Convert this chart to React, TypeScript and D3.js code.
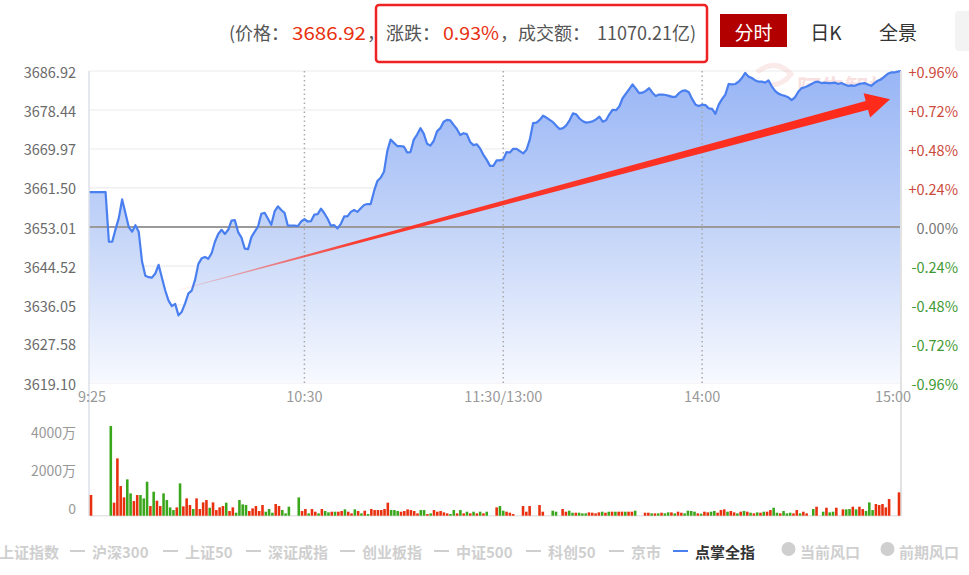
import React from "react";
import * as d3 from "d3";

// 昨收
const prevClose = 3653.01;

// left axis labels (price) and right axis labels (percent)
const priceTicks = [3686.92, 3678.44, 3669.97, 3661.5, 3653.01, 3644.52, 3636.05, 3627.58, 3619.1];
const pctTicks = [0.96, 0.72, 0.48, 0.24, 0, -0.24, -0.48, -0.72, -0.96];

// x axis: minute index from 9:25 (11:30 and 13:00 share one slot)
const timeLabels = ["9:25", "10:30", "11:30/13:00", "14:00", "15:00"];
const timeLabelIdx = [0, 65, 125, 185, 245];
const dottedIdx = [65, 125, 185];

// volume axis (万)
const volTicks = [0, 2000, 4000];

// per-minute index level
const prices = [
  3660.6, 3660.6, 3660.6, 3660.6, 3660.6, 3660.6, 3649.8, 3649.8, 3652.5, 3655.0,
  3659.0, 3656.0, 3653.0, 3652.0, 3653.4, 3652.0, 3645.5, 3642.4, 3642.1, 3642.0,
  3642.9, 3644.8, 3642.0, 3639.2, 3637.0, 3635.8, 3636.3, 3633.8, 3634.6, 3636.4,
  3638.6, 3639.2, 3641.5, 3645.0, 3646.2, 3646.5, 3646.1, 3647.3, 3649.8, 3651.5,
  3652.4, 3651.5, 3652.4, 3654.4, 3654.5, 3651.9, 3650.7, 3648.3, 3648.2, 3650.8,
  3652.0, 3653.1, 3655.9, 3656.1, 3654.8, 3653.5, 3656.4, 3657.5, 3656.7, 3656.1,
  3653.3, 3653.3, 3653.3, 3653.2, 3654.2, 3654.7, 3654.2, 3654.3, 3655.7, 3655.8,
  3657.0, 3656.0, 3654.8, 3653.3, 3653.4, 3652.7, 3653.7, 3655.3, 3655.3, 3656.3,
  3656.7, 3656.3, 3657.1, 3657.8, 3658.0, 3658.0, 3660.8, 3663.0, 3663.7, 3665.0,
  3669.5, 3672.0, 3671.3, 3670.6, 3670.6, 3670.5, 3669.2, 3669.3, 3672.0, 3673.1,
  3674.5, 3673.3, 3671.1, 3670.7, 3671.7, 3673.8, 3674.5, 3675.9, 3676.3, 3676.2,
  3675.2, 3674.3, 3673.0, 3673.4, 3673.2, 3671.5, 3670.8, 3671.0, 3670.1, 3668.7,
  3667.6, 3666.3, 3666.3, 3667.5, 3667.5, 3667.7, 3669.3, 3669.2, 3670.0, 3670.0,
  3669.5, 3669.0, 3669.8, 3672.0, 3675.6, 3675.7, 3676.3, 3677.2, 3676.8, 3676.3,
  3675.8, 3675.0, 3674.3, 3674.5, 3675.1, 3676.2, 3677.7, 3677.5, 3676.6, 3676.0,
  3675.7, 3675.8, 3676.0, 3676.4, 3677.0, 3675.9, 3676.2, 3677.5, 3678.5, 3678.4,
  3679.2, 3681.0, 3682.0, 3683.0, 3684.0, 3683.1, 3682.1, 3682.2, 3682.6, 3683.2,
  3682.2, 3681.5, 3681.8, 3681.8, 3681.7, 3681.5, 3681.3, 3681.3, 3682.1, 3682.6,
  3682.7, 3682.3, 3680.8, 3679.6, 3679.3, 3679.6, 3679.5, 3678.8, 3678.7, 3677.6,
  3679.6, 3680.8, 3681.8, 3684.1, 3684.0, 3684.1, 3684.6, 3685.4, 3686.5, 3685.7,
  3685.4, 3684.9, 3684.6, 3684.6, 3684.4, 3684.9, 3683.6, 3682.6, 3682.0, 3681.7,
  3681.5, 3681.2, 3680.6, 3681.2, 3682.4, 3683.2, 3683.4, 3683.7, 3684.1, 3684.5,
  3684.6, 3684.3, 3684.4, 3684.3, 3684.3, 3684.4, 3684.1, 3684.3, 3684.0, 3683.7,
  3683.8, 3683.7, 3684.0, 3684.2, 3684.3, 3684.0, 3683.7, 3684.3, 3684.8, 3685.1,
  3685.7, 3686.3, 3686.6, 3686.6, 3686.8, 3686.92,
];

// per-minute volume, 万
const volumes = [
  1100, 0, 0, 0, 0, 0, 4756, 690, 3041, 1573,
  972, 1927, 1185, 778, 1096, 1096, 919, 1803, 513, 1273,
  796, 513, 1185, 831, 442, 300, 442, 1715, 495, 919,
  566, 354, 919, 354, 707, 831, 424, 707, 300, 442,
  513, 690, 248, 442, 159, 831, 601, 566, 248, 389,
  513, 248, 566, 212, 354, 159, 619, 513, 300, 124,
  477, 0, 0, 972, 248, 354, 124, 354, 212, 124,
  354, 248, 177, 212, 212, 212, 248, 336, 212, 124,
  336, 248, 124, 265, 88, 354, 300, 300, 300, 354,
  690, 300, 300, 248, 212, 248, 336, 300, 248, 124,
  300, 300, 88, 124, 300, 212, 248, 177, 124, 88,
  300, 124, 300, 124, 212, 124, 212, 124, 212, 124,
  212, 0, 0, 442, 513, 265, 212, 159, 88, 0,
  0, 513, 212, 513, 0, 0, 566, 212, 0, 0,
  265, 212, 0, 354, 212, 265, 159, 159, 159, 124,
  124, 177, 159, 124, 177, 212, 159, 212, 212, 212,
  212, 212, 212, 212, 212, 265, 0, 0, 159, 159,
  124, 124, 124, 159, 124, 177, 177, 124, 212, 159,
  124, 265, 250, 212, 124, 106, 212, 177, 212, 248,
  159, 300, 336, 212, 248, 177, 124, 212, 248, 212,
  159, 124, 177, 159, 212, 212, 300, 424, 159, 124,
  248, 124, 159, 124, 300, 124, 212, 124, 0, 354,
  477, 0, 212, 424, 177, 212, 424, 0, 336, 336,
  354, 477, 336, 477, 354, 248, 707, 300, 619, 566,
  619, 442, 884, 0, 0, 1238,
];

// bar colour per minute: r = up, g = down
const volDir = (
  "r.....grrr" + "rggrrgggrg" + "rrggggrgrr" + "rgrrrrgrrr" + "rgrrggggrr" +
  "rrrgggrrgg" + "g..grrgrrg" + "rggrgrrgrr" + "grgrgrrrrr" + "rgggrrrrrr" +
  "ggrgrrrrrg" + "grgrgrgrgr" + "g..rggrrr." + ".rrr..rr.." + "gg.rrggrgg" +
  "grrrrgrgrg" + "rrgrrg..rr" + "grgrggrgrr" + "ggggrgrrgg" + "rrrgrrgrgr" +
  "grgrgrrggr" + "gggrrgrr.g" + "r.grggr.rg" + "grgrrgggrr" + "rrr..r"
).split("");

// annotation arrow, in (minute index, level)
const arrowFrom = [27, 3639.3];
const arrowTo = [241.7, 3680.8];

const legendNames = ["上证指数", "沪深300", "上证50", "深证成指", "创业板指", "中证500", "科创50", "京市", "点掌全指"];
const legendX = [-1, 92, 185, 268, 362, 456, 548, 631, 695];
const windNames = ["当前风口", "前期风口"];
const windX = [800, 899];

const FONT = "'Noto Sans CJK SC', 'Noto Sans', sans-serif";
const RED = "#e8300f";
const GREEN = "#3aa61c";

export default function App() {
  const left = 89;
  const right = 901;
  const top = 71;
  const bottom = 383;
  const volBase = 515.7;

  const x = d3.scaleLinear().domain([0, prices.length - 1]).range([left, right]);
  const y = d3.scaleLinear().domain([3619.1, 3686.92]).range([bottom, top]);
  const yPct = d3.scaleLinear().domain([-0.96, 0.96]).range([bottom, top]);
  const band = d3
    .scaleBand<number>()
    .domain(d3.range(volumes.length))
    .range([left, right])
    .padding(0.22);
  const yVol = d3.scaleLinear().domain([0, 4000]).range([volBase, 440.3]);

  const line = d3
    .line<number>()
    .x((_, i) => x(i))
    .y((d) => y(d));
  const area = d3
    .area<number>()
    .x((_, i) => x(i))
    .y0(bottom)
    .y1((d) => y(d));

  // tapered arrow
  const ax0 = x(arrowFrom[0]);
  const ay0 = y(arrowFrom[1]);
  const ax1 = x(arrowTo[0]);
  const ay1 = y(arrowTo[1]);
  const len = Math.hypot(ax1 - ax0, ay1 - ay0);
  const ux = (ax1 - ax0) / len;
  const uy = (ay1 - ay0) / len;
  const nx = -uy;
  const ny = ux;
  const bx = ax1 - ux * 24;
  const by = ay1 - uy * 24;
  const arrowPts = [
    [ax0 + nx * 0.3, ay0 + ny * 0.3],
    [bx + nx * 4.5, by + ny * 4.5],
    [bx + nx * 12.5, by + ny * 12.5],
    [ax1, ay1],
    [bx - nx * 12.5, by - ny * 12.5],
    [bx - nx * 4.5, by - ny * 4.5],
    [ax0 - nx * 0.3, ay0 - ny * 0.3],
  ];

  const pctColor = (p: number) => (p > 0 ? "#cc4a3c" : p < 0 ? "#3f9a33" : "#777");
  const pctText = (p: number) => (p > 0 ? "+" : p < 0 ? "-" : "") + Math.abs(p).toFixed(2) + "%";

  return (
    <svg
      width={969}
      height={575}
      style={{ position: "absolute", left: 0, top: 0, background: "#fff" }}
      fontFamily={FONT}
    >
      <defs>
        <linearGradient id="areaFill" gradientUnits="userSpaceOnUse" x1={0} y1={top} x2={0} y2={bottom}>
          <stop offset="0" stopColor="#98b5f5" />
          <stop offset="0.5" stopColor="#c3d4f8" />
          <stop offset="1" stopColor="#f7f9fe" />
        </linearGradient>
        <linearGradient id="arrowFill" gradientUnits="userSpaceOnUse" x1={ax0} y1={ay0} x2={ax1} y2={ay1}>
          <stop offset="0" stopColor="#ff2a1a" stopOpacity={0.1} />
          <stop offset="0.25" stopColor="#ff2a1a" stopOpacity={0.9} />
          <stop offset="1" stopColor="#ff2a1a" />
        </linearGradient>
      </defs>

      {/* header */}
      <g fontSize={18} fill="#555" dominantBaseline="central">
        <text x={229} y={32}>(价格：</text>
        <text x={292} y={32} fill={RED} textLength={74} lengthAdjust="spacingAndGlyphs">3686.92</text>
        <text x={367} y={32}>，</text>
        <text x={386} y={32}>涨跌：</text>
        <text x={443} y={32} fill={RED} textLength={56} lengthAdjust="spacingAndGlyphs">0.93%</text>
        <text x={500} y={32}>，成交额：</text>
        <text x={597} y={32} textLength={99} lengthAdjust="spacingAndGlyphs">11070.21亿)</text>
      </g>
      <rect x={376} y={5} width={331} height={57} rx={3} fill="none" stroke="#ee2222" strokeWidth={2.5} />
      <rect x={720} y={14} width={67} height={33} fill="#b20000" />
      <g fontSize={19} textAnchor="middle" dominantBaseline="central">
        <text x={753.5} y={31} fill="#fff">分时</text>
        <text x={826} y={31} fill="#333">日K</text>
        <text x={898} y={31} fill="#333">全景</text>
      </g>
      <rect x={955} y={11} width={24} height={40} rx={4} fill="#f3f3f3" />

      {/* grid */}
      {priceTicks.map((t) => (
        <line key={"g" + t} x1={left} x2={right} y1={y(t)} y2={y(t)} stroke="#ececec" strokeWidth={1.2} />
      ))}

      {/* watermark */}
      <text x={797} y={86} fontSize={24} fontWeight="bold" fill="#f0b4b4" opacity={0.4} dominantBaseline="central">
        阿牛智投
      </text>
      <path d="M757,72 q18,-14 34,2 q-10,14 -28,10 q14,10 4,22 q-12,4 -24,-2" fill="none" stroke="#f2b8b8" strokeWidth={5} opacity={0.3} />

      {/* area + line */}
      <path d={area(prices) || ""} fill="url(#areaFill)" />
      {dottedIdx.map((i) => (
        <line key={"d" + i} x1={x(i)} x2={x(i)} y1={top} y2={bottom} stroke="#a9a9a9" strokeWidth={1.5} strokeDasharray="1.5,3" />
      ))}
      <line x1={left} x2={right} y1={y(prevClose)} y2={y(prevClose)} stroke="#9a9a9a" strokeWidth={2} />
      <path d={line(prices) || ""} fill="none" stroke="#4a7ff0" strokeWidth={2.2} strokeLinejoin="round" />

      {/* axes frame */}
      <line x1={left} x2={left} y1={top} y2={volBase} stroke="#dde2ea" strokeWidth={1.5} />
      <line x1={right} x2={right} y1={top} y2={volBase} stroke="#e2e2e2" strokeWidth={2} />
      <line x1={left} x2={right} y1={volBase} y2={volBase} stroke="#e6e6e6" strokeWidth={1.5} />

      {/* left labels */}
      <g fontSize={14.5} fill="#6a6a6a" textAnchor="end" dominantBaseline="central">
        {priceTicks.map((t) => (
          <text key={"l" + t} x={76} y={y(t)}>
            {t.toFixed(2)}
          </text>
        ))}
      </g>
      {/* right labels */}
      <g fontSize={14.5} textAnchor="end" dominantBaseline="central">
        {pctTicks.map((p) => (
          <text key={"r" + p} x={958} y={yPct(p)} fill={pctColor(p)}>
            {pctText(p)}
          </text>
        ))}
      </g>
      {/* time labels */}
      <g fontSize={14.5} fill="#999" textAnchor="middle" dominantBaseline="central">
        {timeLabels.map((t, k) => {
          const i = timeLabelIdx[k];
          const dx = k === 0 ? 3 : k === timeLabels.length - 1 ? -8 : 0;
          return (
            <text key={t} x={x(i) + dx} y={395}>
              {t}
            </text>
          );
        })}
      </g>

      {/* volume */}
      {volumes.map((v, i) =>
        v > 0 ? (
          <rect
            key={"v" + i}
            x={band(i)}
            y={yVol(v)}
            width={band.bandwidth()}
            height={volBase - yVol(v)}
            fill={volDir[i] === "g" ? GREEN : RED}
          />
        ) : null
      )}
      <g fontSize={14} fill="#999" textAnchor="end" dominantBaseline="central">
        {volTicks.map((t) => (
          <text key={"vt" + t} x={76} y={yVol(t) - 8}>
            {t === 0 ? "0" : t + "万"}
          </text>
        ))}
      </g>

      {/* arrow annotation */}
      <polygon points={arrowPts.map((p) => p.join(",")).join(" ")} fill="url(#arrowFill)" />

      {/* legend */}
      <g fontSize={15} fontWeight="bold" dominantBaseline="central">
        {legendNames.map((n, k) => {
          const active = k === legendNames.length - 1;
          return (
            <g key={n}>
              {k > 0 && (
                <line
                  x1={legendX[k] - 22}
                  x2={legendX[k] - 7}
                  y1={551}
                  y2={551}
                  stroke={active ? "#4a7ff0" : "#cfcfcf"}
                  strokeWidth={2}
                />
              )}
              <text x={legendX[k]} y={551} fill={active ? "#333" : "#cfcfcf"}>
                {n}
              </text>
            </g>
          );
        })}
        {windNames.map((n, k) => (
          <g key={n}>
            <circle cx={windX[k] - 11.5} cy={549} r={7} fill="#cfcfcf" />
            <text x={windX[k]} y={551} fill="#cfcfcf">
              {n}
            </text>
          </g>
        ))}
      </g>
    </svg>
  );
}
